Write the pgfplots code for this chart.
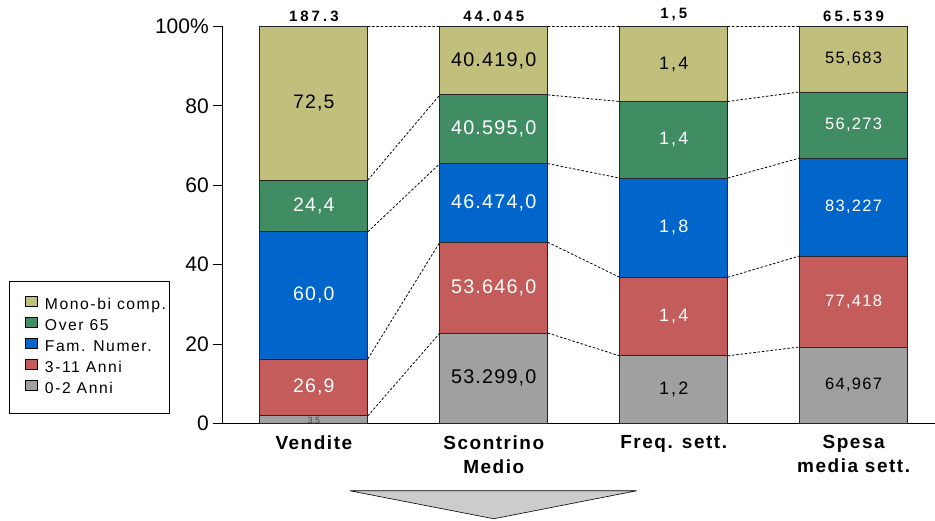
\documentclass[border=0pt]{standalone}
\usepackage{pgfplots}
\pgfplotsset{compat=1.18}
\usepackage{pgfplotstable}
\usepackage{fontspec}
\setmainfont{Liberation Sans}
\newfontfamily\fA[LetterSpace=6]{Liberation Sans}
\newfontfamily\fB[LetterSpace=6]{Liberation Sans}
\newfontfamily\fC[LetterSpace=12]{Liberation Sans}
\newfontfamily\fD[LetterSpace=8]{Liberation Sans}
\newfontfamily\fLeg[LetterSpace=10]{Liberation Sans}
\newfontfamily\fCat[LetterSpace=8]{Liberation Sans}
\newfontfamily\fTop[LetterSpace=20]{Liberation Sans}
\definecolor{cMono}{RGB}{192,192,124}
\definecolor{cOver}{RGB}{64,141,99}
\definecolor{cFam}{RGB}{0,102,204}
\definecolor{cKid}{RGB}{196,92,92}
\definecolor{cBaby}{RGB}{160,160,160}
\definecolor{cTri}{RGB}{204,204,204}

\pgfplotstableread{
x baby kid fam over mono
0 1.87 14.36 32.03 13.03 38.71
1 22.74 22.88 19.82 17.32 17.24
2 17.0 19.8 25.0 19.3 18.9
3 19.25 22.93 24.66 16.67 16.49
}\shares

\begin{document}
\begin{tikzpicture}
\begin{axis}[name=ax, scale only axis, width=713pt, height=397pt,
  xmin=-0.511, xmax=3.45, ymin=0, ymax=100,
  ybar stacked, bar width=0.6,
  axis lines*=left,
  axis line style={black, line width=0.8pt},
  ytick={0,20,40,60,80,100},
  yticklabels={0,20,40,60,80,100\%},
  yticklabel style={font=\fontsize{21}{24}\selectfont, inner sep=4pt},
  ytick style={black, line width=0.8pt},
  tick align=outside, major tick length=9pt,
  xtick={0,1,2,3},
  xticklabels={Vendite,{Scontrino\\Medio},{Freq. sett.},{Spesa\\media sett.}},
  xticklabel style={align=center, font=\fCat\bfseries\fontsize{19}{24}\selectfont, inner sep=0pt, yshift=-3pt},
  xtick style={draw=none},
  reverse legend,
  legend style={at={(axis description cs:-0.0729,0.024)}, anchor=south east,
    draw=black, line width=0.8pt, font=\fLeg\fontsize{15.7}{18}\selectfont,
    inner xsep=0pt, inner ysep=13.5pt, row sep=0pt,
    nodes={inner sep=3.5pt, text height=11pt, text depth=3pt}},
  legend cell align=left,
  legend image code/.code={\path[draw=none,fill=none] (0pt,0pt) rectangle (32.5pt,1pt);\draw[#1,draw=black,line width=0.8pt] (16pt,-1pt) rectangle (28pt,9.5pt);},
  every axis plot/.append style={draw=black!85, line width=0.8pt},
]
\addplot[fill=cBaby] table[x=x,y=baby] {\shares};
\addlegendentry{0-2 Anni}
\addplot[fill=cKid] table[x=x,y=kid] {\shares};
\addlegendentry{3-11 Anni}
\addplot[fill=cFam] table[x=x,y=fam] {\shares};
\addlegendentry{Fam. Numer.}
\addplot[fill=cOver] table[x=x,y=over] {\shares};
\addlegendentry{Over 65}
\addplot[fill=cMono] table[x=x,y=mono] {\shares};
\addlegendentry{Mono-bi comp.}
\end{axis}

\begin{axis}[at={(ax.south west)}, anchor=south west, scale only axis, width=713pt, height=397pt,
  xmin=-0.511, xmax=3.45, ymin=0, ymax=100, axis lines=none, clip=false,
  lab/.style 2 args={only marks, mark=none, nodes near coords, point meta=explicit symbolic,
    nodes near coords align=center,
    every node near coord/.append style={anchor=center, inner sep=0pt, text=#1, font=#2}},
  conn/.style={black, line width=0.8pt, dash pattern=on 2.5pt off 1.8pt, unbounded coords=jump, mark=none},
]
% connectors
\addplot[conn] coordinates {(0.3,1.87) (0.7,22.74) (nan,nan) (0.3,16.23) (0.7,45.62) (nan,nan) (0.3,48.26) (0.7,65.44) (nan,nan) (0.3,61.29) (0.7,82.76) (nan,nan) (0.3,100) (0.7,100)};
\addplot[conn] coordinates {(1.3,22.74) (1.7,17.0) (nan,nan) (1.3,45.62) (1.7,36.8) (nan,nan) (1.3,65.44) (1.7,61.8) (nan,nan) (1.3,82.76) (1.7,81.1) (nan,nan) (1.3,100) (1.7,100)};
\addplot[conn] coordinates {(2.3,17.0) (2.7,19.25) (nan,nan) (2.3,36.8) (2.7,42.18) (nan,nan) (2.3,61.8) (2.7,66.84) (nan,nan) (2.3,81.1) (2.7,83.51) (nan,nan) (2.3,100) (2.7,100)};
% segment labels
\addplot[lab={black}{\fA\fontsize{19.5}{22}\selectfont}] coordinates {(0,80.65) [72,5]};
\addplot[lab={white}{\fA\fontsize{19.5}{22}\selectfont}] coordinates {(0,54.78) [24,4] (0,32.25) [60,0] (0,9.05) [26,9]};
\addplot[lab={black!70}{\fontsize{9}{10}\selectfont}] coordinates {(0,0.7) [3,5]};
\addplot[lab={black}{\fB\fontsize{19.8}{22}\selectfont}] coordinates {(1,91.38) [40.419,0] (1,11.37) [53.299,0]};
\addplot[lab={white}{\fB\fontsize{19.8}{22}\selectfont}] coordinates {(1,74.10) [40.595,0] (1,55.53) [46.474,0] (1,34.18) [53.646,0]};
\addplot[lab={black}{\fC\fontsize{18}{22}\selectfont}] coordinates {(2,90.55) [1,4] (2,8.5) [1,2]};
\addplot[lab={white}{\fC\fontsize{18}{22}\selectfont}] coordinates {(2,71.45) [1,4] (2,49.3) [1,8] (2,26.9) [1,4]};
\addplot[lab={black}{\fD\fontsize{16.5}{20}\selectfont}] coordinates {(3,91.75) [55,683] (3,9.62) [64,967]};
\addplot[lab={white}{\fD\fontsize{16.5}{20}\selectfont}] coordinates {(3,75.17) [56,273] (3,54.51) [83,227] (3,30.71) [77,418]};
% totals
\addplot[only marks, mark=none, nodes near coords, point meta=explicit symbolic,
  every node near coord/.append style={anchor=south, inner sep=0pt, yshift=5pt, text=black, font=\fTop\bfseries\fontsize{15}{18}\selectfont}]
  coordinates {(0,100) [187.3] (1,100) [44.045] (2,100) [1,5] (3,100) [65.539]};
% arrow
\addplot[fill=cTri, draw=black, line width=0.6pt, mark=none] coordinates {(0.2,-17) (1.794,-17) (1.0,-24.05) (0.2,-17)};
\end{axis}
\path ([xshift=-222pt,yshift=-97.5pt]ax.south west) rectangle ([yshift=26.5pt]ax.north east);
\end{tikzpicture}
\end{document}
